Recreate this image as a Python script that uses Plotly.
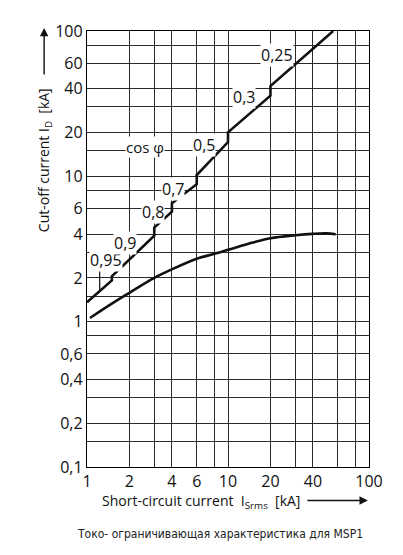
import math
import plotly.graph_objects as go

# stepped curve: cut-off current at given cos phi bands
upper_x = [1, 1.5, 1.5, 3, 3, 4, 4, 6, 6, 10, 10, 20, 20, 55.7]
upper_y = [1.36, 1.92, 2.05, 3.9, 4.44, 5.71, 6.52, 8.83, 10.2, 17.2, 20.1, 35.9, 41.8, 100]

# smooth curve: MSP1 limited current
lower_x = [1.05, 1.5, 2, 3, 4, 6, 8, 10, 15, 20, 30, 40, 50, 58]
lower_y = [1.06, 1.33, 1.58, 2.0, 2.29, 2.71, 2.93, 3.12, 3.5, 3.75, 3.93, 4.02, 4.05, 4.0]

cos_labels = ["0,95", "0,9", "0,8", "0,7", "0,5", "0,3", "0,25"]
cos_x = [1.37, 1.85, 2.92, 4.06, 6.73, 12.95, 22.2]
cos_y = [2.67, 3.47, 5.71, 8.24, 16.5, 34.9, 68.3]

x_grid = [1, 2, 3, 4, 6, 8, 10, 20, 30, 40, 60, 80, 100]
x_labels = ["1", "2", "", "4", "6", "", "10", "20", "", "40", "", "", "100"]
y_grid = [0.1, 0.15, 0.2, 0.3, 0.4, 0.6, 0.8, 1, 1.5, 2, 3, 4, 6, 8, 10,
          15, 20, 30, 40, 60, 80, 100]
y_labels = ["0,1", "", "0,2", "", "0,4", "0,6", "", "1", "", "2", "", "4", "6", "",
            "10", "", "20", "", "40", "60", "", "100"]

FONT = "Open Sans"
INK = "#111111"
lg = math.log10

fig = go.Figure()
fig.add_trace(go.Scatter(x=upper_x, y=upper_y, mode="lines",
                         line=dict(color=INK, width=2.6), hoverinfo="skip"))
fig.add_trace(go.Scatter(x=lower_x, y=lower_y, mode="lines",
                         line=dict(color=INK, width=2.6, shape="spline"),
                         hoverinfo="skip"))

# leader line for 0,95
fig.add_shape(type="line", x0=1.23, x1=1.23, y0=2.45, y1=1.66,
              line=dict(color=INK, width=1.2))

# annotations on log axes take log10 positions
for t, x, y in zip(cos_labels, cos_x, cos_y):
    fig.add_annotation(x=lg(x), y=lg(y), text=t, showarrow=False, bgcolor="white",
                       borderpad=0, font=dict(family=FONT, size=16, color=INK))
fig.add_annotation(x=lg(2.59), y=lg(15.9), text="cos \u03c6", showarrow=False,
                   bgcolor="white", borderpad=0,
                   font=dict(family=FONT, size=15, color=INK))

# axis titles with arrows
fig.add_annotation(xref="paper", yref="paper", x=-0.152, y=0.704, textangle=-90,
                   xanchor="center", yanchor="middle",
                   text="Cut-off current I<sub>D</sub>  [kA]", showarrow=False,
                   font=dict(family=FONT, size=14, color=INK))
fig.add_annotation(xref="paper", yref="paper", x=-0.152, y=1.007, ax=0, ay=48,
                   text="", showarrow=True, arrowhead=2, arrowsize=1.2,
                   arrowwidth=1.4, arrowcolor=INK)
fig.add_annotation(xref="paper", yref="paper", x=0.045, y=-0.08, xanchor="left",
                   yanchor="middle",
                   text="Short-circuit current  I<sub>Srms</sub>  [kA]", showarrow=False,
                   font=dict(family=FONT, size=14, color=INK))
fig.add_annotation(xref="paper", yref="paper", x=0.996, y=-0.077, ax=-62, ay=0,
                   text="", showarrow=True, arrowhead=2, arrowsize=1.2,
                   arrowwidth=1.4, arrowcolor=INK)
fig.add_annotation(xref="paper", yref="paper", x=0.5, y=-0.154, yanchor="middle",
                   xshift=-8,
                   text="Токо- ограничивающая характеристика для MSP1", showarrow=False,
                   font=dict(family="DejaVu Sans Condensed, Liberation Sans Narrow, Roboto, sans-serif",
                             size=12, color="#222222"))

axis_common = dict(showgrid=True, gridcolor="#2a2a2a", gridwidth=1.1,
                   showline=True, linecolor="black", linewidth=1.4, mirror=True,
                   zeroline=False, tickfont=dict(family=FONT, size=16, color=INK))

fig.update_xaxes(type="log", range=[0, 2], tickmode="array",
                 tickvals=x_grid, ticktext=x_labels, **axis_common)
fig.update_yaxes(type="log", range=[-1, 2], tickmode="array",
                 tickvals=y_grid, ticktext=y_labels, **axis_common)

# page body adds 8px around the figure
fig.update_layout(width=387, height=539, showlegend=False,
                  margin=dict(l=79, r=19, t=20, b=80),
                  paper_bgcolor="white", plot_bgcolor="white")

fig.write_html("out.html")
